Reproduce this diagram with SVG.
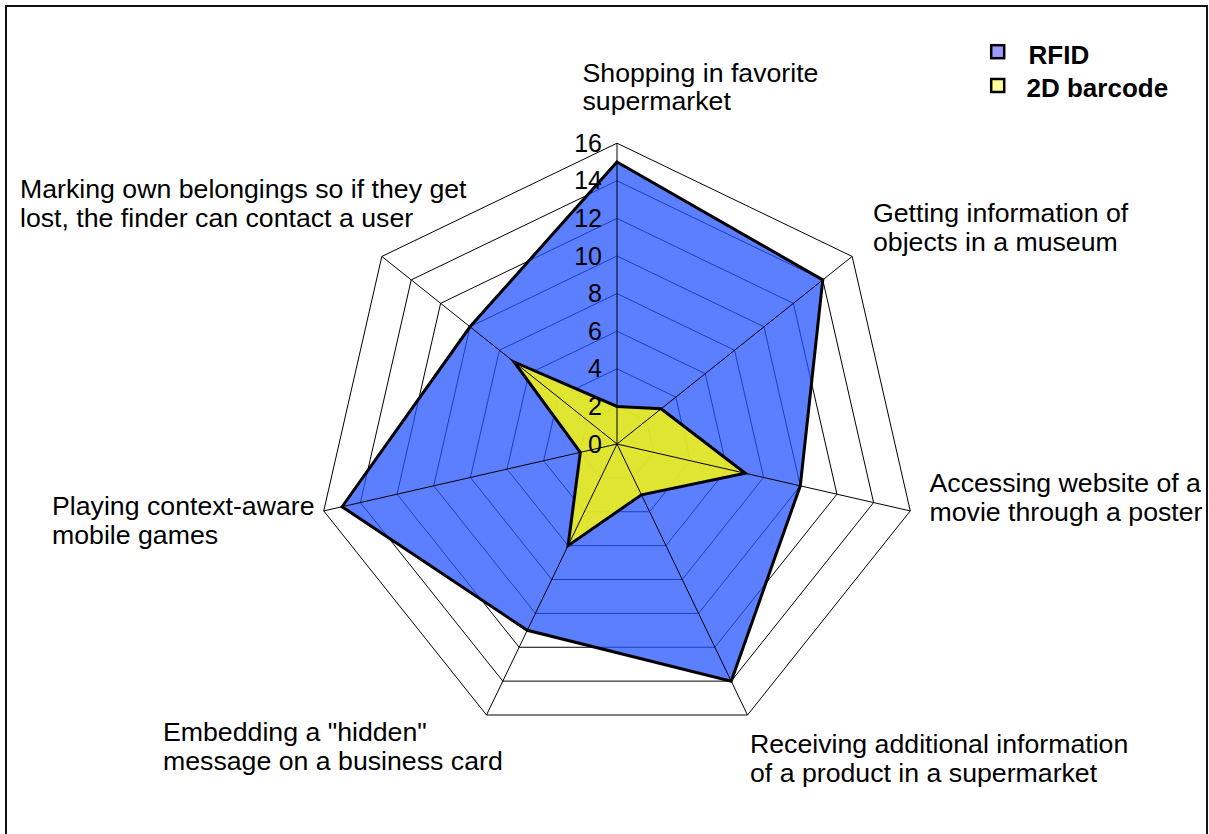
<svg xmlns="http://www.w3.org/2000/svg" width="1209" height="834" viewBox="0 0 1209 834">
<style>
text{font-family:"Liberation Sans",Arial,sans-serif;fill:#000}
.lbl{font-size:26.7px}
.num{font-size:25px;text-anchor:end}
.leg{font-size:26px;font-weight:bold}
.ring{fill:none;stroke:#000;stroke-width:1}
.spoke{stroke:#000;stroke-width:1}
.rfid{fill:#2454ff;fill-opacity:0.75}
.bar{fill:#edf11b;fill-opacity:0.9}
.outline{fill:none;stroke:#000;stroke-width:3;stroke-linejoin:miter}
</style>
<rect x="0" y="0" width="1209" height="834" fill="#fff"/>
<rect id="frame" x="6" y="6" width="1201" height="840" fill="none" stroke="#111" stroke-width="2"/>

<g id="grid">
<polygon class="ring" points="617,406.4 646.40,420.56 653.66,452.37 633.31,477.88 600.69,477.88 580.34,452.37 587.60,420.56"/>
<polygon class="ring" points="617,368.8 675.79,397.11 690.31,460.73 649.63,511.75 584.37,511.75 543.69,460.73 558.21,397.11"/>
<polygon class="ring" points="617,331.2 705.19,373.67 726.97,469.10 665.94,545.63 568.06,545.63 507.03,469.10 528.81,373.67"/>
<polygon class="ring" points="617,293.6 734.59,350.23 763.63,477.47 682.26,579.51 551.74,579.51 470.37,477.47 499.41,350.23"/>
<polygon class="ring" points="617,256 763.98,326.78 800.29,485.83 698.57,613.38 535.43,613.38 433.71,485.83 470.02,326.78"/>
<polygon class="ring" points="617,218.4 793.38,303.34 836.94,494.20 714.88,647.26 519.12,647.26 397.06,494.20 440.62,303.34"/>
<polygon class="ring" points="617,180.8 822.78,279.90 873.60,502.57 731.20,681.14 502.80,681.14 360.40,502.57 411.22,279.90"/>
<polygon class="ring" points="617,143.2 852.17,256.45 910.26,510.93 747.51,715.01 486.49,715.01 323.74,510.93 381.83,256.45"/>
</g>

<g id="series-rfid">
<polygon class="rfid" points="617,162 822.78,279.90 800.29,485.83 731.20,681.14 527.27,630.32 342.07,506.75 470.02,326.78"/>
</g>
<g id="series-2d-barcode">
<polygon class="bar" points="617,406.4 661.10,408.84 745.30,473.28 641.47,494.81 568.06,545.63 580.34,452.37 514.11,361.95"/>
</g>

<g id="axes">
<line class="spoke" x1="617" y1="444" x2="617" y2="143.2"/>
<line class="spoke" x1="617" y1="444" x2="852.17" y2="256.45"/>
<line class="spoke" x1="617" y1="444" x2="910.26" y2="510.93"/>
<line class="spoke" x1="617" y1="444" x2="747.51" y2="715.01"/>
<line class="spoke" x1="617" y1="444" x2="486.49" y2="715.01"/>
<line class="spoke" x1="617" y1="444" x2="323.74" y2="510.93"/>
<line class="spoke" x1="617" y1="444" x2="381.83" y2="256.45"/>
</g>

<g id="series-outlines">
<polygon class="outline" points="617,162 822.78,279.90 800.29,485.83 731.20,681.14 527.27,630.32 342.07,506.75 470.02,326.78"/>
<polygon class="outline" points="617,406.4 661.10,408.84 745.30,473.28 641.47,494.81 568.06,545.63 580.34,452.37 514.11,361.95"/>
</g>

<g id="scale">
<text class="num" x="602" y="452.5">0</text>
<text class="num" x="602" y="414.9">2</text>
<text class="num" x="602" y="377.3">4</text>
<text class="num" x="602" y="339.7">6</text>
<text class="num" x="602" y="302.1">8</text>
<text class="num" x="602" y="264.5">10</text>
<text class="num" x="602" y="226.9">12</text>
<text class="num" x="602" y="189.3">14</text>
<text class="num" x="602" y="151.7">16</text>
</g>

<g id="label-shopping">
<text class="lbl" x="582.5" y="81.7">Shopping in favorite</text>
<text class="lbl" x="582.5" y="110">supermarket</text>
</g>
<g id="label-museum">
<text class="lbl" x="873" y="221.7">Getting information of</text>
<text class="lbl" x="873" y="250.7">objects in a museum</text>
</g>
<g id="label-poster">
<text class="lbl" x="929.5" y="491.7">Accessing website of a</text>
<text class="lbl" x="929.5" y="520.5">movie through a poster</text>
</g>
<g id="label-product">
<text class="lbl" x="750" y="753.3">Receiving additional information</text>
<text class="lbl" x="750" y="781.7">of a product in a supermarket</text>
</g>
<g id="label-card">
<text class="lbl" x="163" y="740.7">Embedding a "hidden"</text>
<text class="lbl" x="163" y="769.7">message on a business card</text>
</g>
<g id="label-games">
<text class="lbl" x="52" y="515">Playing context-aware</text>
<text class="lbl" x="52" y="544">mobile games</text>
</g>
<g id="label-belongings">
<text class="lbl" x="20" y="198.3">Marking own belongings so if they get</text>
<text class="lbl" x="20" y="226.7">lost, the finder can contact a user</text>
</g>

<g id="legend">
<rect x="991.2" y="45.2" width="13" height="13" fill="#9999ff" stroke="#000" stroke-width="2.5"/>
<text class="leg" x="1028.5" y="64.3">RFID</text>
<rect x="991.2" y="79" width="13" height="13" fill="#ffff99" stroke="#000" stroke-width="2.5"/>
<text class="leg" x="1026.5" y="96.7">2D barcode</text>
</g>
</svg>
